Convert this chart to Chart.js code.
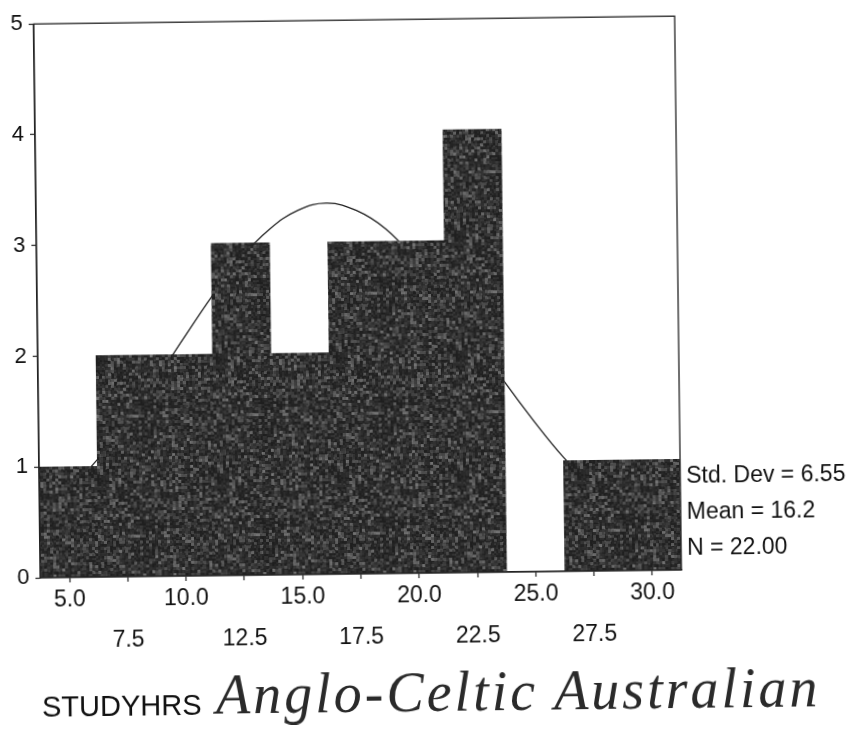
<!DOCTYPE html>
<html>
<head>
<meta charset="utf-8">
<title>STUDYHRS histogram</title>
<script src="https://cdn.jsdelivr.net/npm/chart.js@4.4.1/dist/chart.umd.min.js"></script>
<style>
  html, body { margin: 0; padding: 0; background: #fff; overflow: hidden; }
  #sheet { position: relative; width: 857px; height: 750px; transform: rotate(-0.7deg); transform-origin: 50% 50%; }
  #plot { position: absolute; left: 0; top: 0; }
  .stat { position: absolute; left: 685px; font: 23px "Liberation Sans", Arial, sans-serif; color: #111; line-height: 36px; white-space: nowrap; }
  #note { position: absolute; left: 212px; top: 664px; font: italic 56px "Liberation Serif", serif; letter-spacing: 3px; color: #2a2a2a; line-height: 56px; white-space: nowrap; }
</style>
</head>
<body>
<div id="sheet">
  <canvas id="plot" width="857" height="750"></canvas>
  <div id="stats"></div>
  <div id="note">Anglo-Celtic Australian</div>
</div>
<script>
// Histogram of study hours: bin midpoints and counts
const binCentres = [5.0, 7.5, 10.0, 12.5, 15.0, 17.5, 20.0, 22.5, 25.0, 27.5, 30.0];
const frequencies = [1, 2, 2, 3, 2, 3, 3, 4, 0, 1, 1];

// Axis tick values and their printed labels
const tickValues = [5.0, 7.5, 10.0, 12.5, 15.0, 17.5, 20.0, 22.5, 25.0, 27.5, 30.0];
const tickLabels = ['5.0', '7.5', '10.0', '12.5', '15.0', '17.5', '20.0', '22.5', '25.0', '27.5', '30.0'];

// Fitted normal curve, sampled along the axis
const curveX = [3.75, 5.0, 6.25, 7.5, 8.75, 10.0, 11.25, 12.5, 13.75, 15.0, 16.25, 17.5,
                18.75, 20.0, 21.25, 22.5, 23.75, 25.0, 26.25, 27.5, 28.75, 30.0, 31.25];
const curveY = [0.55, 0.78, 1.06, 1.39, 1.75, 2.14, 2.52, 2.86, 3.12, 3.29, 3.35, 3.28,
                3.11, 2.83, 2.49, 2.11, 1.72, 1.36, 1.03, 0.76, 0.53, 0.36, 0.24];

// Summary statistics printed beside the plot
const statLines = ['Std. Dev = 6.55', 'Mean = 16.2', 'N = 22.00'];

const statsBox = document.getElementById('stats');
statLines.forEach((txt, i) => {
  const d = document.createElement('div');
  d.className = 'stat';
  d.style.top = (460 + i * 36) + 'px';
  d.textContent = txt;
  statsBox.appendChild(d);
});

// Grainy dark fill for the bars (deterministic hash texture)
function makeGrain() {
  const size = 120;
  const c = document.createElement('canvas');
  c.width = size; c.height = size;
  const g = c.getContext('2d');
  const img = g.createImageData(size, size);
  const hash = (a, b) => {
    const s = Math.sin(a * 12.9898 + b * 78.233) * 43758.5453;
    return s - Math.floor(s);
  };
  for (let y = 0; y < size; y++) {
    for (let x = 0; x < size; x++) {
      const v = hash(Math.floor(x / 3), Math.floor(y / 3));
      const w = hash(Math.floor(x / 2) + 0.5, Math.floor(y / 2) + 0.25);
      const shade = Math.round(30 + 70 * v * v * v + 22 * w * w);
      const k = (y * size + x) * 4;
      img.data[k] = shade; img.data[k + 1] = shade; img.data[k + 2] = shade; img.data[k + 3] = 255;
    }
  }
  g.putImageData(img, 0, 0);
  return g.createPattern(c, 'repeat');
}

const framePlugin = {
  id: 'frame',
  afterDatasetsDraw(chart) {
    const { ctx, chartArea: a } = chart;
    ctx.save();
    ctx.strokeStyle = '#222';
    ctx.lineWidth = 1.3;
    ctx.strokeRect(a.left, a.top, a.right - a.left, a.bottom - a.top);
    ctx.restore();
  }
};

const fontFamily = '"Liberation Sans", Arial, sans-serif';

new Chart(document.getElementById('plot'), {
  data: {
    datasets: [
      {
        type: 'bar',
        label: 'Frequency',
        data: binCentres.map((x, i) => ({ x, y: frequencies[i] })),
        backgroundColor: makeGrain(),
        borderWidth: 0,
        barPercentage: 1,
        categoryPercentage: 1,
        order: 1
      },
      {
        type: 'line',
        label: 'Normal',
        data: curveX.map((x, i) => ({ x, y: curveY[i] })),
        borderColor: '#222',
        borderWidth: 1.3,
        pointRadius: 0,
        tension: 0.4,
        fill: false,
        order: 2
      }
    ]
  },
  options: {
    responsive: false,
    animation: false,
    devicePixelRatio: 1,
    layout: { padding: { top: 14, right: 178, bottom: 0, left: 0 } },
    plugins: { legend: { display: false }, tooltip: { enabled: false } },
    scales: {
      x: {
        type: 'linear',
        offset: false,
        min: 3.75,
        max: 31.25,
        afterBuildTicks: s => { s.ticks = tickValues.map(v => ({ value: v })); },
        afterFit: s => { s.height = 177; },
        ticks: {
          autoSkip: false,
          maxRotation: 0,
          padding: 7.4,
          color: '#111',
          font: { family: fontFamily, size: 23, lineHeight: 20.4 / 23 },
          callback: (value, index) => index % 2 === 0 ? [tickLabels[index]] : ['', '', tickLabels[index]]
        },
        grid: { offset: false, drawOnChartArea: false, drawTicks: true, tickLength: 5, tickColor: '#222', tickWidth: 1.2 },
        border: { display: true, color: '#222', width: 1.3 },
        title: {
          display: true,
          text: 'STUDYHRS',
          align: 'start',
          color: '#111',
          font: { family: fontFamily, size: 29 },
          padding: { top: 0, bottom: 28.2 }
        }
      },
      y: {
        min: 0,
        max: 5,
        afterFit: s => { s.width = 38; },
        ticks: { stepSize: 1, padding: 6, color: '#111', font: { family: fontFamily, size: 22 } },
        grid: { drawOnChartArea: false, drawTicks: true, tickLength: 5, tickColor: '#222', tickWidth: 1.2 },
        border: { display: true, color: '#222', width: 1.3 }
      }
    }
  },
  plugins: [framePlugin]
});
</script>
</body>
</html>
